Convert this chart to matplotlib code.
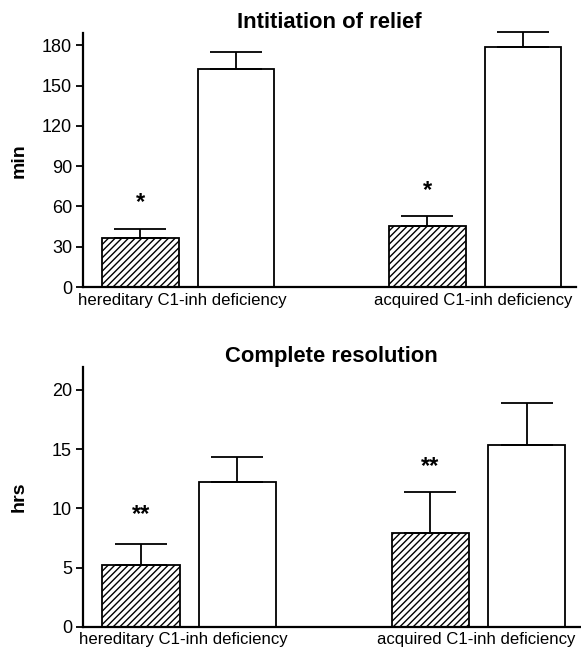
import numpy as np
import matplotlib

matplotlib.use("Agg")
import matplotlib.pyplot as plt

plt.rcParams["font.family"] = ["Liberation Sans", "DejaVu Sans"]

# posizioni delle barre: 2 gruppi x 2 barre
groups = ["hereditary C1-inh deficiency", "acquired C1-inh deficiency"]
bar_pos = [0, 1, 3, 4]
hatched = [True, False, True, False]

relief_mean = [36.5, 162.5, 45.5, 178.5]
relief_err = [7.0, 12.5, 7.5, 11.5]
relief_stars = ["*", "", "*", ""]
relief_star_y = [63, None, 72, None]

resol_mean = [5.2, 12.2, 7.95, 15.3]
resol_err = [1.8, 2.1, 3.45, 3.6]
resol_stars = ["**", "", "**", ""]
resol_star_y = [9.5, None, 13.5, None]


def panel(ax, means, errs, stars, star_y, title, ylabel, yticks, ylim, tpad):
    for x, m, e, h in zip(bar_pos, means, errs, hatched):
        ax.bar(x, m, width=0.8, color="white", edgecolor="black", lw=1.3,
               hatch="/////" if h else None, zorder=2)
        ax.errorbar(x, m, yerr=[[0], [e]], fmt="none", ecolor="black",
                    elinewidth=1.3, capsize=19, capthick=1.3, clip_on=False, zorder=3)
    for x, s, y in zip(bar_pos, stars, star_y):
        if s:
            ax.text(x, y, s, ha="center", va="center", fontsize=17, fontweight="bold")
    ax.set_xlim(-0.6, 4.55)
    ax.set_ylim(*ylim)
    ax.set_yticks(yticks)
    ax.set_xticks([0.44, 3.48])
    ax.set_xticklabels(groups, fontsize=12.1)
    ax.tick_params(axis="x", length=0, pad=4)
    ax.tick_params(axis="y", length=5, width=1.3, labelsize=13, pad=3)
    for side in ("top", "right"):
        ax.spines[side].set_visible(False)
    for side in ("left", "bottom"):
        ax.spines[side].set_linewidth(1.6)
    ax.set_ylabel(ylabel, fontsize=14, fontweight="bold")
    ax.yaxis.set_label_coords(-0.112, 0.5)
    ax.set_title(title, fontsize=15.8, fontweight="bold", pad=tpad)


fig = plt.figure(figsize=(5.81, 6.51), dpi=100)
ax1 = fig.add_axes([0.143, 0.559, 0.848, 0.390])
ax2 = fig.add_axes([0.143, 0.037, 0.855, 0.399])

panel(ax1, relief_mean, relief_err, relief_stars, relief_star_y,
      "Intitiation of relief", "min", [0, 30, 60, 90, 120, 150, 180], (0, 189), 0)
panel(ax2, resol_mean, resol_err, resol_stars, resol_star_y,
      "Complete resolution", "hrs", [0, 5, 10, 15, 20], (0, 21.9), 3)

fig.savefig("out.png", dpi=100)
